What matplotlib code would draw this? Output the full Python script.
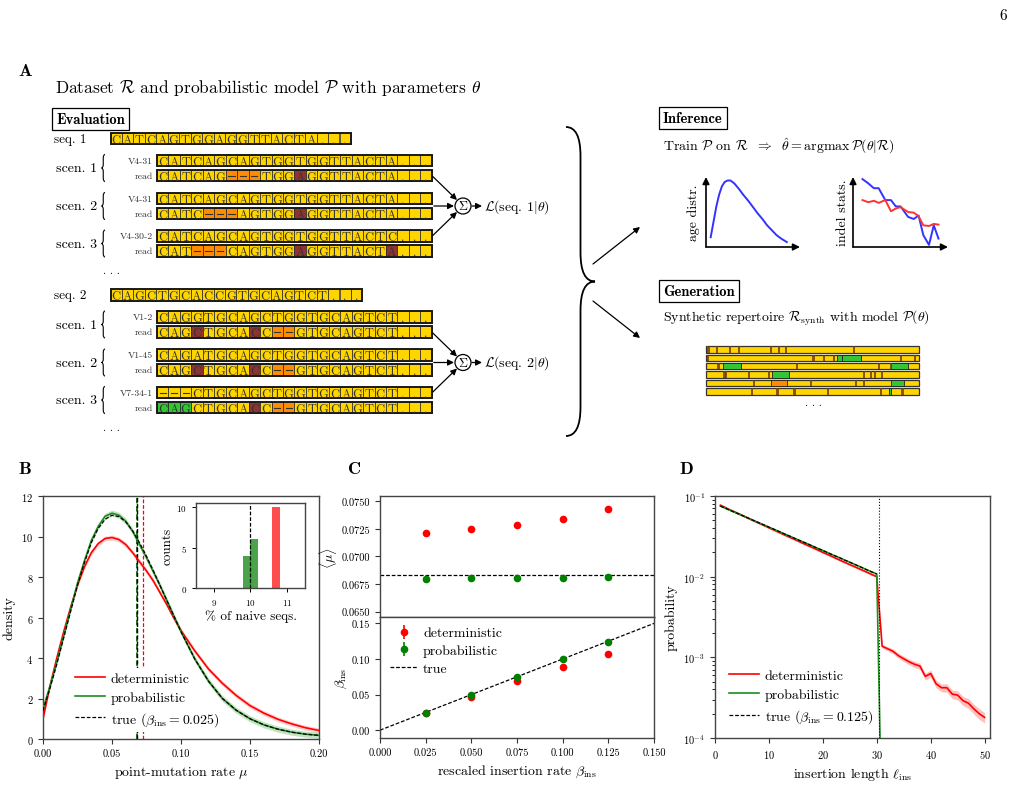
import matplotlib
matplotlib.use("Agg")
import matplotlib.pyplot as plt
from matplotlib.patches import Rectangle, Circle, PathPatch
from matplotlib.path import Path

plt.rcParams['font.family'] = 'serif'
plt.rcParams['font.serif'] = ['cmr10']
plt.rcParams['mathtext.fontset'] = 'cm'
plt.rcParams['axes.formatter.use_mathtext'] = True
plt.rcParams['axes.unicode_minus'] = False
plt.rcParams['axes.edgecolor'] = '#444444'
plt.rcParams['axes.linewidth'] = 1.0

# ---------------- data: panel A (schematic) ----------------
seq1 = "CATCAGTGGAGGTTACTA..."
seq1_scen = [
    ("scen. 1", "V4-31", "CATCAGCAGTGGTGGTTACTA...", "y" * 24,
     "CATCAG---TGGAGGTTACTA...", "yyyyyyoooyyymyyyyyyyyyyy"),
    ("scen. 2", "V4-31", "CATCAGCAGTGGTGGTTACTA...", "y" * 24,
     "CATC---AGTGGAGGTTACTA...", "yyyyoooyyyyymyyyyyyyyyyy"),
    ("scen. 3", "V4-30-2", "CATCAGCAGTGGTGGTTACTC...", "y" * 24,
     "CAT---CAGTGGAGGTTACTA...", "yyyoooyyyyyymyyyyyyymyyy"),
]
seq2 = "CAGCTGCACCGTGCAGTCT..."
seq2_scen = [
    ("scen. 1", "V1-2", "CAGGTGCAGCTGGTGCAGTCT...", "y" * 24,
     "CAGCTGCACC--GTGCAGTCT...", "yyymyyyymyooyyyyyyyyyyyy"),
    ("scen. 2", "V1-45", "CAGATGCAGCTGGTGCAGTCT...", "y" * 24,
     "CAGCTGCACC--GTGCAGTCT...", "yyymyyyymyooyyyyyyyyyyyy"),
    ("scen. 3", "V7-34-1", "---CTGCAGCTGGTGCAGTCT...", "y" * 24,
     "CAGCTGCACC--GTGCAGTCT...", "gggyyyyymyooyyyyyyyyyyyy"),
]
cell_colors = {'y': '#FFD500', 'm': '#8E3232', 'o': '#FF8C00', 'g': '#33C533'}

# schematic inference curves
age_x = [0.05, 0.08, 0.11, 0.14, 0.17, 0.20, 0.23, 0.26, 0.30, 0.35, 0.40, 0.45, 0.50,
         0.55, 0.60, 0.65, 0.70, 0.75, 0.80, 0.86]
age_y = [0.14, 0.36, 0.58, 0.75, 0.87, 0.93, 0.95, 0.95, 0.91, 0.83, 0.74, 0.66, 0.57,
         0.48, 0.40, 0.31, 0.24, 0.17, 0.12, 0.07]
indel_x = [0.10, 0.16, 0.22, 0.27, 0.34, 0.40, 0.45, 0.50, 0.58, 0.64, 0.69, 0.74, 0.80, 0.85, 0.90]
indel_blue = [0.97, 0.91, 0.84, 0.84, 0.67, 0.67, 0.58, 0.58, 0.43, 0.40, 0.45, 0.17, 0.03, 0.31, 0.12]
indel_red = [0.67, 0.64, 0.66, 0.63, 0.67, 0.51, 0.55, 0.57, 0.50, 0.49, 0.44, 0.31, 0.30, 0.33, 0.32]

# synthetic repertoire rows: point mutations, insertions (green), deletions (orange)
gen_mut = [
    [0.011, 0.053, 0.113, 0.155, 0.305, 0.343, 0.376, 0.695],
    [0.008, 0.504, 0.554, 0.602, 0.914, 0.981],
    [0.058, 0.426, 0.812, 0.867],
    [0.086, 0.095, 0.203, 0.297, 0.743, 0.775, 0.793, 0.825],
    [0.225, 0.493, 0.704, 0.743],
    [0.215, 0.335, 0.415, 0.574, 0.822, 0.922],
]
gen_ins = [[], [(0.614, 0.639), (0.640, 0.730)], [(0.081, 0.163), (0.869, 0.950)],
           [(0.311, 0.391)], [(0.869, 0.931)], [(0.859, 0.869)]]
gen_del = [[], [], [], [], [(0.304, 0.382)], []]

# ---------------- data: panel B ----------------
mu_grid = [0, 0.005, 0.01, 0.015, 0.02, 0.025, 0.03, 0.035, 0.04, 0.045, 0.05, 0.055, 0.06,
           0.065, 0.07, 0.075, 0.08, 0.085, 0.09, 0.095, 0.10, 0.11, 0.12, 0.13, 0.14, 0.15,
           0.16, 0.17, 0.18, 0.19, 0.20]
dens_det = [1.0, 2.6, 4.0, 5.3, 6.5, 7.6, 8.5, 9.2, 9.65, 9.9, 9.95, 9.85, 9.6, 9.2, 8.75,
            8.3, 7.8, 7.2, 6.6, 5.95, 5.35, 4.35, 3.45, 2.75, 2.15, 1.65, 1.28, 0.98, 0.75,
            0.56, 0.42]
dens_prob = [1.5, 2.6, 3.8, 5.1, 6.4, 7.7, 8.8, 9.8, 10.5, 11.0, 11.15, 11.05, 10.75, 10.25,
             9.6, 8.95, 8.25, 7.55, 6.8, 6.05, 5.3, 3.95, 2.85, 2.0, 1.42, 1.0, 0.70, 0.49,
             0.34, 0.24, 0.18]
dens_true = [1.4, 2.5, 3.7, 5.0, 6.3, 7.6, 8.7, 9.7, 10.4, 10.85, 11.05, 10.98, 10.72, 10.28,
             9.68, 9.02, 8.3, 7.55, 6.8, 6.05, 5.3, 3.95, 2.85, 2.0, 1.42, 1.0, 0.70, 0.49,
             0.34, 0.24, 0.18]
naive_prob_left = [9.8, 10.0]
naive_prob_counts = [4, 6]
naive_det_left = [10.6]
naive_det_counts = [10]
naive_true = 10.0

# ---------------- data: panel C ----------------
beta = [0.025, 0.05, 0.075, 0.10, 0.125]
mu_det = [0.07215, 0.07249, 0.07288, 0.07342, 0.07436]
mu_det_err = [0.00012, 0.00008, 0.00012, 0.00008, 0.00006]
mu_prob = [0.06794, 0.06803, 0.06806, 0.06803, 0.06812]
mu_prob_err = [0.00005, 0.00005, 0.00005, 0.00005, 0.00005]
mu_true = 0.06833
beta_det = [0.0236, 0.0470, 0.0690, 0.0890, 0.1068]
beta_det_err = [0.0012, 0.0012, 0.0015, 0.0012, 0.0012]
beta_prob = [0.0247, 0.0496, 0.0745, 0.0995, 0.1244]
beta_prob_err = [0.0012, 0.0012, 0.0015, 0.0012, 0.0012]

# ---------------- data: panel D ----------------
ins_len = list(range(1, 51))
p_true = [0.0750, 0.0702, 0.0656, 0.0614, 0.0574, 0.0537, 0.0502, 0.0470, 0.0440, 0.0411,
          0.0385, 0.0360, 0.0336, 0.0315, 0.0294, 0.0275, 0.0258, 0.0241, 0.0225, 0.0211,
          0.0197, 0.0184, 0.0173, 0.0161, 0.0151, 0.0141, 0.0132, 0.0123, 0.0115, 0.0108]
p_prob = p_true + [5e-6]
p_det = [0.0770, 0.0715, 0.0664, 0.0620, 0.0578, 0.0538, 0.0500, 0.0466, 0.0434, 0.0404,
         0.0377, 0.0351, 0.0327, 0.0305, 0.0285, 0.0265, 0.0247, 0.0231, 0.0215, 0.0200,
         0.0187, 0.0174, 0.0162, 0.0151, 0.0141, 0.0132, 0.0123, 0.0115, 0.0107, 0.0100,
         0.00137, 0.00128, 0.00119, 0.00105, 0.00096, 0.00088, 0.00082, 0.00078, 0.00058,
         0.00063, 0.00047, 0.00042, 0.00042, 0.00035, 0.00034, 0.00029, 0.00027, 0.00023,
         0.00020, 0.00018]
p_det_rel = [0.03] * 30 + [0.06, 0.06, 0.07, 0.07, 0.08, 0.08, 0.09, 0.09, 0.10, 0.10,
                           0.11, 0.11, 0.12, 0.12, 0.13, 0.13, 0.14, 0.14, 0.15, 0.15]
ins_cut = 30.5

RED = '#ff0000'
GREEN = '#1e8c1e'

fig = plt.figure(figsize=(10.16, 8.12), dpi=100)
W, H = 1016, 812


def px_axes(x0, y0, x1, y1):
    # axes placed by pixel box (top-left origin)
    return fig.add_axes([x0 / W, (H - y1) / H, (x1 - x0) / W, (y1 - y0) / H])


ax0 = fig.add_axes([0, 0, 1, 1])
ax0.set_xlim(0, W)
ax0.set_ylim(H, 0)
ax0.axis('off')

CW, CH = 11.45, 11.5


def draw_row(x0, yc, letters, codes):
    for i, (ch, c) in enumerate(zip(letters, codes)):
        xl = x0 + i * CW
        ax0.add_patch(Rectangle((xl, yc - CH / 2), CW, CH, fc=cell_colors[c],
                                ec='#222222', lw=0.5))
        if ch == '-':
            ax0.plot([xl + 2.6, xl + CW - 2.6], [yc + 0.3, yc + 0.3], color='#333333', lw=0.8)
        else:
            ax0.text(xl + CW / 2, yc + 4.1, ch, ha='center', va='baseline',
                     fontsize=9, color='#333333')
    ax0.add_patch(Rectangle((x0, yc - CH / 2), len(letters) * CW, CH, fill=False,
                            ec='#1a1a1a', lw=1.4))


def brace(x, y0, y1, d, lw):
    ym = (y0 + y1) / 2
    r = min(abs(d), (y1 - y0) / 4)
    xm = x - d / 2
    verts = [(x, y0), (xm, y0), (xm, y0 + r), (xm, ym - r), (xm, ym), (x - d, ym),
             (xm, ym), (xm, ym + r), (xm, y1 - r), (xm, y1), (x, y1)]
    codes = [Path.MOVETO, Path.CURVE3, Path.CURVE3, Path.LINETO, Path.CURVE3, Path.CURVE3,
             Path.CURVE3, Path.CURVE3, Path.LINETO, Path.CURVE3, Path.CURVE3]
    ax0.add_patch(PathPatch(Path(verts, codes), fill=False, lw=lw, ec='black'))


def arrow(x0, y0, x1, y1, lw=0.9):
    ax0.annotate('', xy=(x1, y1), xytext=(x0, y0),
                 arrowprops=dict(arrowstyle='-|>', lw=lw, color='black', mutation_scale=9,
                                 shrinkA=0, shrinkB=0))


def seq_block(yc, name, seq, scen, num):
    ax0.text(54, yc, name, fontsize=9.5, va='center', ha='left')
    draw_row(110.5, yc, seq, 'y' * len(seq))
    offs = [(22, 37), (60, 75), (97.5, 112.5)]
    for (lab, glab, gseq, gcod, rseq, rcod), (o1, o2) in zip(scen, offs):
        ax0.text(97, yc + (o1 + o2) / 2, lab, fontsize=10, ha='right', va='center')
        brace(105, yc + o1 - 6, yc + o2 + 6, 3.5, 0.8)
        ax0.text(153, yc + o1, glab, fontsize=7, ha='right', va='center', color='#333333')
        ax0.text(153, yc + o2, 'read', fontsize=7, ha='right', va='center', color='#333333')
        draw_row(157, yc + o1, gseq, gcod)
        draw_row(157, yc + o2, rseq, rcod)
    ax0.text(103, yc + 132, '. . .', fontsize=8, ha='left', va='center')
    xe = 157 + 24 * CW
    cy = yc + 67.5
    ax0.add_patch(Circle((463, cy), 8, fill=False, ec='black', lw=0.9))
    ax0.text(463, cy, r'$\Sigma$', ha='center', va='center', fontsize=9)
    arrow(xe + 1, yc + 38, 457, cy - 6)
    arrow(xe + 2, cy, 454, cy)
    arrow(xe + 1, yc + 97, 457, cy + 6)
    arrow(472, cy, 482, cy)
    ax0.text(484, cy, r'$\mathcal{L}(\mathrm{seq.\,%d}|\theta)$' % num, fontsize=10,
             va='center', ha='left')


ax0.text(1003, 16, '6', fontsize=11, ha='center', va='center')
ax0.text(18, 71, 'A', fontsize=13, fontfamily='cmb10', va='center')
ax0.text(55, 88, r'Dataset $\mathcal{R}$ and probabilistic model $\mathcal{P}$ with parameters $\theta$',
         fontsize=12.5, va='center')
ax0.text(56, 120, 'Evaluation', fontsize=10.5, fontfamily='cmb10', va='center',
         bbox=dict(boxstyle='square,pad=0.3', fc='white', ec='black', lw=0.9))

seq_block(139.5, 'seq. 1', seq1, seq1_scen, 1)
seq_block(296, 'seq. 2', seq2, seq2_scen, 2)

brace(566, 128, 437, -29, 1.3)
arrow(593, 265, 640, 228)
arrow(593, 302, 640, 339)

ax0.text(663, 119, 'Inference', fontsize=10.5, fontfamily='cmb10', va='center',
         bbox=dict(boxstyle='square,pad=0.3', fc='white', ec='black', lw=0.9))
ax0.text(663, 146, r'Train $\mathcal{P}$ on $\mathcal{R}$ $\;\Rightarrow\;$ '
         r'$\hat{\theta} = \mathrm{argmax}\,\mathcal{P}(\theta|\mathcal{R})$',
         fontsize=10, va='center')
ax0.text(663, 292, 'Generation', fontsize=10.5, fontfamily='cmb10', va='center',
         bbox=dict(boxstyle='square,pad=0.3', fc='white', ec='black', lw=0.9))
ax0.text(663, 318, r'Synthetic repertoire $\mathcal{R}_{\rm synth}$ with model $\mathcal{P}(\theta)$',
         fontsize=10, va='center')

# synthetic repertoire bars
gx0, gx1 = 706, 919
for k in range(len(gen_mut)):
    yc = 350.3 + k * 8.4
    h = 6.4
    ax0.add_patch(Rectangle((gx0, yc - h / 2), gx1 - gx0, h, fc='#FFD500', ec='#333333', lw=0.9))
    for a, b in gen_ins[k]:
        ax0.add_patch(Rectangle((gx0 + a * (gx1 - gx0), yc - h / 2), (b - a) * (gx1 - gx0), h,
                                fc='#33C533', ec='#222222', lw=0.6))
    for a, b in gen_del[k]:
        ax0.add_patch(Rectangle((gx0 + a * (gx1 - gx0), yc - h / 2), (b - a) * (gx1 - gx0), h,
                                fc='#FF8C00', ec='#222222', lw=0.6))
    for m in gen_mut[k]:
        ax0.add_patch(Rectangle((gx0 + m * (gx1 - gx0) - 1, yc - h / 2), 2.2, h,
                                fc='#7a3d0a', ec='none', alpha=0.85))
ax0.text(813, 403, '. . .', fontsize=8, ha='center', va='center')


def schematic_axes(x0, y0, x1, y1, label, lx):
    ax = px_axes(x0, y0, x1, y1)
    ax.set_xlim(0, 1)
    ax.set_ylim(0, 1)
    ax.axis('off')
    for xy in [(1.0, 0.0), (0.0, 1.0)]:
        ax.annotate('', xy=xy, xytext=(0, 0), xycoords='axes fraction',
                    arrowprops=dict(arrowstyle='-|>', lw=1.2, color='black',
                                    mutation_scale=10, shrinkA=0, shrinkB=0))
    ax0.text(lx, (y0 + y1) / 2, label, rotation=90, fontsize=10, ha='center', va='center')
    return ax


sa = schematic_axes(706, 178, 800, 248, 'age distr.', 694)
sa.plot(age_x, age_y, color='#3333ff', lw=1.4, clip_on=False)
sb = schematic_axes(853, 178, 948, 248, 'indel stats.', 843)
sb.plot(indel_x, indel_blue, color='#3333ff', lw=1.4, clip_on=False)
sb.plot(indel_x, indel_red, color='#ff3333', lw=1.4, clip_on=False)


def style(ax):
    ax.tick_params(labelsize=7.5, length=3.5, width=0.8, color='#333333')


# ---------------- panel B ----------------
ax0.text(18, 470, 'B', fontsize=13, fontfamily='cmb10', va='center')
axB = px_axes(43, 497, 319, 740)
axB.fill_between(mu_grid, [v - 0.12 for v in dens_det], [v + 0.12 for v in dens_det],
                 color=RED, alpha=0.2, lw=0, zorder=6)
axB.fill_between(mu_grid, [v - 0.15 for v in dens_prob], [v + 0.15 for v in dens_prob],
                 color=GREEN, alpha=0.25, lw=0, zorder=6)
axB.plot(mu_grid, dens_det, color=RED, lw=1.2, label='deterministic', zorder=7)
axB.plot(mu_grid, dens_prob, color=GREEN, lw=1.2, label='probabilistic', zorder=7)
axB.plot(mu_grid, dens_true, color='black', lw=0.9, ls='--', dashes=(3, 1.5),
         label=r'true ($\beta_{\rm ins}=0.025$)', zorder=8)
axB.axvline(mu_prob[0], color='#0b6b0b', lw=1.3, ls='--', dashes=(3, 1.5), zorder=2)
axB.axvline(mu_true, color='black', lw=1.0, ls='--', dashes=(3, 1.5), zorder=2)
axB.axvline(mu_det[0], color=RED, lw=0.9, ls='--', dashes=(3, 1.5), zorder=2)
axB.set_xlim(0, 0.2)
axB.set_ylim(0, 12)
axB.set_xticks([0, 0.05, 0.10, 0.15, 0.20])
axB.set_xticklabels(['0.00', '0.05', '0.10', '0.15', '0.20'])
axB.set_yticks(range(0, 13, 2))
axB.set_xlabel(r'point-mutation rate $\mu$', fontsize=10)
axB.set_ylabel('density', fontsize=10)
style(axB)
axB.legend(loc='lower left', bbox_to_anchor=(0.1, 0.03), fontsize=10, frameon=True,
           framealpha=1, edgecolor='none', handlelength=2.2, handletextpad=0.4,
           labelspacing=0.45, borderaxespad=0, borderpad=0.3)

axI = px_axes(196, 504, 305, 589)
axI.bar(naive_prob_left, naive_prob_counts, width=0.2, align='edge', color=GREEN, alpha=0.8)
axI.bar(naive_det_left, naive_det_counts, width=0.2, align='edge', color=RED, alpha=0.7)
axI.axvline(naive_true, color='black', lw=0.9, ls='--', dashes=(3, 1.5))
axI.set_xlim(8.5, 11.5)
axI.set_ylim(0, 10.5)
axI.set_xticks([9, 10, 11])
axI.set_yticks([0, 5, 10])
axI.tick_params(labelsize=6.5, length=3, width=0.7)
axI.set_xlabel('% of naive seqs.', fontsize=9.5, labelpad=2)
axI.set_ylabel('counts', fontsize=9.5, labelpad=2)

# ---------------- panel C ----------------
ax0.text(348, 470, 'C', fontsize=13, fontfamily='cmb10', va='center')
axC1 = px_axes(380, 497, 654, 618)
axC2 = px_axes(380, 618, 654, 739)
axC1.errorbar(beta, mu_det, yerr=mu_det_err, fmt='o', color='red', ms=4.5, elinewidth=1.2)
axC1.errorbar(beta, mu_prob, yerr=mu_prob_err, fmt='o', color='green', ms=4.5, elinewidth=1.2)
axC1.axhline(mu_true, color='black', lw=0.9, ls='--', dashes=(3, 1.5))
axC1.set_xlim(0, 0.15)
axC1.set_ylim(0.0645, 0.0755)
axC1.set_yticks([0.0650, 0.0675, 0.0700, 0.0725, 0.0750])
axC1.set_yticklabels(['0.0650', '0.0675', '0.0700', '0.0725', '0.0750'])
axC1.set_xticks([0, 0.025, 0.05, 0.075, 0.1, 0.125, 0.15])
axC1.tick_params(labelbottom=False)
axC1.set_ylabel(r'$\langle\mu\rangle$', fontsize=10, labelpad=2)
style(axC1)

axC2.errorbar(beta, beta_det, yerr=beta_det_err, fmt='o', color='red', ms=4.5, elinewidth=1.2,
              label='deterministic')
axC2.errorbar(beta, beta_prob, yerr=beta_prob_err, fmt='o', color='green', ms=4.5,
              elinewidth=1.2, label='probabilistic')
axC2.plot([0, 0.15], [0, 0.15], color='black', lw=0.9, ls='--', dashes=(3, 1.5), label='true')
axC2.set_xlim(0, 0.15)
axC2.set_ylim(-0.011, 0.159)
axC2.set_xticks([0, 0.025, 0.05, 0.075, 0.1, 0.125, 0.15])
axC2.set_xticklabels(['0.000', '0.025', '0.050', '0.075', '0.100', '0.125', '0.150'])
axC2.set_yticks([0, 0.05, 0.10, 0.15])
axC2.set_yticklabels(['0.00', '0.05', '0.10', '0.15'])
axC2.set_xlabel(r'rescaled insertion rate $\beta_{\rm ins}$', fontsize=10)
axC2.set_ylabel(r'$\beta_{\rm ins}$', fontsize=10, labelpad=2)
style(axC2)
hC, lC = axC2.get_legend_handles_labels()
order = [lC.index('deterministic'), lC.index('probabilistic'), lC.index('true')]
axC2.legend([hC[i] for i in order], [lC[i] for i in order], loc='upper left', fontsize=10,
            frameon=False, handlelength=2.0, handletextpad=0.4, labelspacing=0.35,
            borderaxespad=0.3)

# ---------------- panel D ----------------
ax0.text(679, 470, 'D', fontsize=13, fontfamily='cmb10', va='center')
axD = px_axes(715, 497, 990, 739)
lo = [p * (1 - r) for p, r in zip(p_det, p_det_rel)]
hi = [p * (1 + r) for p, r in zip(p_det, p_det_rel)]
axD.fill_between(ins_len, lo, hi, color=RED, alpha=0.25, lw=0)
axD.plot(ins_len, p_det, color=RED, lw=1.2, label='deterministic')
axD.plot(ins_len[:len(p_prob)], p_prob, color=GREEN, lw=1.2, label='probabilistic')
axD.plot(ins_len[:len(p_true)], p_true, color='black', lw=0.9, ls='--', dashes=(3, 1.5),
         label=r'true ($\beta_{\rm ins}=0.125$)')
axD.axvline(ins_cut, color='black', lw=0.8, ls=':')
axD.set_yscale('log')
axD.set_xlim(0, 51)
axD.set_ylim(1e-4, 1e-1)
axD.set_xticks(range(0, 51, 10))
axD.set_xlabel(r'insertion length $\ell_{\rm ins}$', fontsize=10)
axD.set_ylabel('probability', fontsize=10)
style(axD)
axD.legend(loc='lower left', bbox_to_anchor=(0.03, 0.03), fontsize=10, frameon=False,
           handlelength=2.2, handletextpad=0.4, labelspacing=0.45, borderaxespad=0)

fig.savefig('out.png', dpi=100)
